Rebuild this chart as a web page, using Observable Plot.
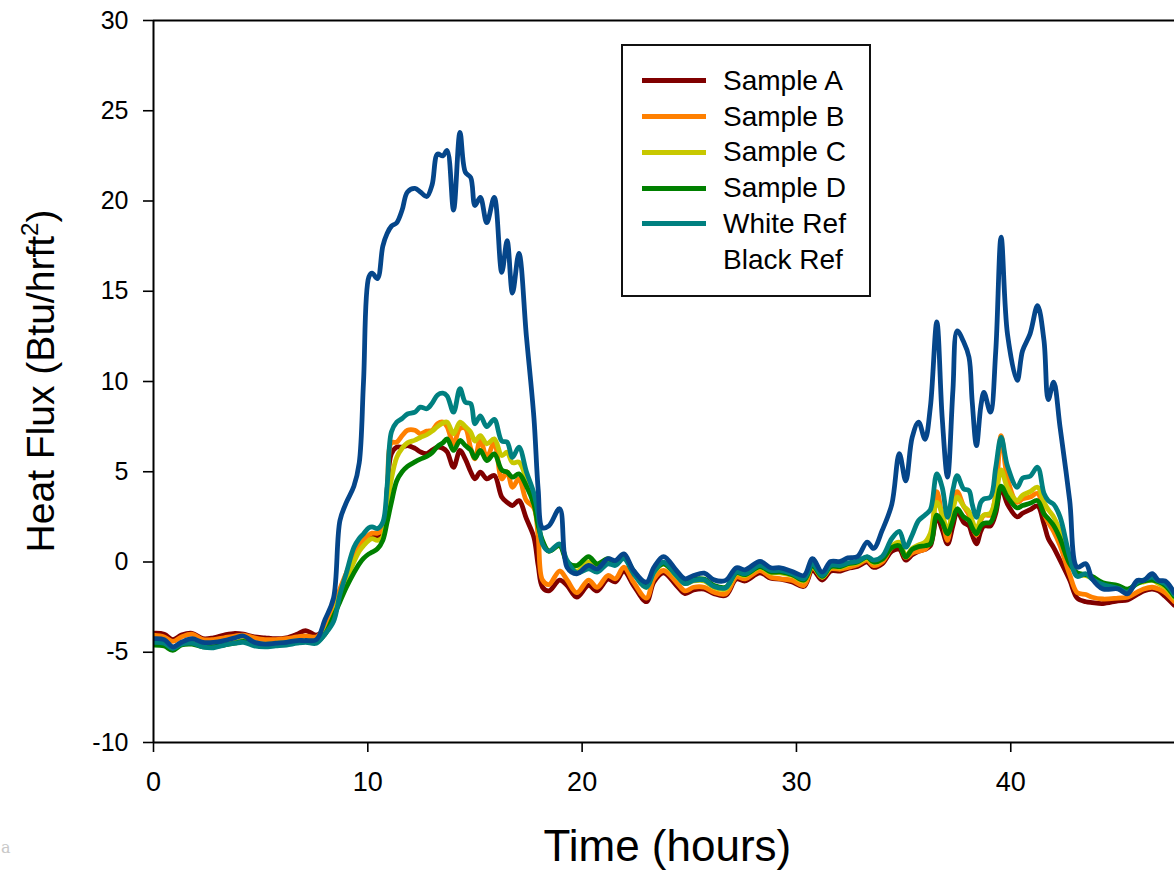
<!DOCTYPE html>
<html><head><meta charset="utf-8">
<script src="https://cdn.jsdelivr.net/npm/d3@7"></script>
<script src="https://cdn.jsdelivr.net/npm/@observablehq/plot@0.6"></script>
<style>
body{margin:0;background:#fff;}
#wrap{position:relative;width:1174px;height:873px;overflow:hidden;font-family:"Liberation Sans",Arial,sans-serif;background:#fff;}
#wrap svg{position:absolute;left:0;top:0;}
.legend{position:absolute;left:621px;top:44px;width:246px;height:249px;border:2px solid #111;background:#fff;}
.legend .sw{position:absolute;left:19px;width:64px;height:5px;}
.legend .lb{position:absolute;left:100px;font-size:28px;line-height:30px;color:#000;white-space:nowrap;}
.artifact{position:absolute;left:1px;top:838px;font-family:"DejaVu Serif",serif;font-size:16px;color:#c8c8c8;}
</style></head><body><div id="wrap"></div>
<script>
const hours = [0,0.5,0.9,1.3,1.8,2.3,2.8,3.3,3.8,4.2,
 4.7,5.2,5.7,6.2,6.7,7.1,7.6,8.0,8.4,8.7,
 9.0,9.35,9.6,9.8,10.05,10.2,10.45,10.7,10.9,11.1,
 11.35,11.6,11.85,12.2,12.45,12.75,13.0,13.25,13.5,13.7,
 14.0,14.3,14.55,14.8,15.0,15.25,15.55,15.9,16.25,16.5,
 16.75,17.05,17.4,17.75,17.95,18.15,18.45,18.95,19.3,19.75,
 20.3,20.7,21.2,21.55,21.95,22.4,23.0,23.35,23.8,24.4,
 24.8,25.2,25.7,26.15,26.7,27.2,27.6,28.3,28.8,29.25,
 29.8,30.35,30.75,31.2,31.6,32.05,32.4,32.85,33.3,33.6,
 34.0,34.45,34.8,35.1,35.4,35.7,36.0,36.25,36.55,36.8,
 37.05,37.3,37.5,37.8,38.05,38.2,38.4,38.6,38.75,39.05,
 39.3,39.55,39.85,40.3,40.55,40.9,41.25,41.55,41.75,42.0,
 42.3,42.75,43.1,43.5,43.8,44.3,45.0,45.45,45.9,46.2,
 46.6,46.9,47.2,47.63];

const sampleA = [-3.95,-4.0,-4.3,-4.05,-3.95,-4.25,-4.2,-4.05,-3.95,-4.0,
 -4.15,-4.2,-4.25,-4.2,-4.0,-3.8,-4.05,-3.7,-2.7,-1.6,
 -0.7,0.3,0.8,1.1,1.4,1.5,1.4,1.5,4.0,6.0,
 6.36,6.36,6.45,6.3,6.1,6.0,6.2,6.36,6.3,6.1,
 5.25,6.18,5.7,5.0,4.61,4.98,4.61,4.8,3.6,3.3,
 3.13,3.4,2.4,1.37,-0.2,-1.4,-1.6,-1.0,-1.3,-1.95,
 -1.3,-1.6,-0.95,-1.1,-0.5,-1.3,-2.2,-1.1,-0.6,-1.3,
 -1.75,-1.55,-1.5,-1.75,-1.85,-0.95,-1.05,-0.6,-0.9,-0.95,
 -1.1,-1.35,-0.45,-1.0,-0.5,-0.5,-0.35,-0.25,0.0,-0.3,
 -0.1,0.6,0.7,0.1,0.4,0.6,0.7,0.9,2.5,1.8,
 1.0,2.0,2.8,2.2,2.0,1.5,1.0,1.7,2.0,2.0,
 2.7,4.1,3.2,2.5,2.7,2.9,3.1,2.1,1.3,0.8,
 0.1,-1.0,-2.0,-2.2,-2.25,-2.3,-2.15,-2.1,-1.8,-1.6,
 -1.5,-1.6,-1.9,-2.4];

const sampleB = [-4.05,-4.15,-4.4,-4.15,-4.0,-4.3,-4.3,-4.2,-4.1,-4.05,
 -4.2,-4.3,-4.3,-4.25,-4.15,-4.1,-4.15,-3.6,-2.6,-1.5,
 -0.6,0.4,0.9,1.2,1.5,1.6,1.6,1.8,3.5,6.6,
 6.64,7.0,7.3,7.3,7.1,7.25,7.3,7.66,7.75,7.5,
 6.55,7.4,7.4,6.3,5.72,6.82,5.8,6.6,4.6,5.0,
 4.14,4.6,3.4,3.0,1.4,-1.0,-1.25,-0.5,-1.0,-1.7,
 -1.0,-1.4,-0.75,-0.93,-0.29,-1.12,-2.0,-0.93,-0.47,-1.12,
 -1.6,-1.4,-1.4,-1.67,-1.76,-0.84,-0.93,-0.47,-0.84,-0.93,
 -1.02,-1.3,-0.29,-0.84,-0.38,-0.4,-0.3,-0.15,0.1,-0.2,
 0.0,0.8,1.0,0.25,0.5,0.6,0.7,1.2,3.9,2.5,
 1.2,3.2,3.9,3.1,2.6,2.0,1.5,2.3,2.6,2.6,
 3.8,7.0,4.6,3.3,3.5,3.6,3.8,2.7,2.2,1.7,
 0.9,-0.7,-1.7,-1.8,-1.95,-2.05,-2.0,-1.95,-1.67,-1.5,
 -1.4,-1.5,-1.7,-2.2];

const sampleC = [-4.55,-4.6,-4.8,-4.55,-4.45,-4.6,-4.6,-4.5,-4.45,-4.35,
 -4.5,-4.55,-4.5,-4.45,-4.35,-4.35,-4.35,-3.9,-3.0,-1.8,
 -1.0,0.0,0.6,0.9,1.2,1.3,1.2,1.4,3.0,4.6,
 5.8,6.3,6.6,6.75,6.9,7.05,7.25,7.5,7.7,7.75,
 7.1,7.75,7.5,7.2,6.7,7.0,6.55,6.82,5.9,6.08,
 5.5,5.53,4.6,3.4,2.0,1.1,0.6,0.95,0.0,-0.5,
 0.0,-0.3,0.05,-0.1,0.25,-0.6,-1.4,-0.6,-0.1,-0.8,
 -1.2,-1.05,-1.05,-1.4,-1.5,-0.65,-0.75,-0.3,-0.6,-0.6,
 -0.75,-1.05,-0.25,-0.85,-0.3,-0.3,-0.15,-0.05,0.2,-0.05,
 0.15,0.9,1.1,0.35,0.75,0.95,1.1,1.6,3.3,2.7,
 1.7,2.9,3.6,3.1,2.8,2.3,1.8,2.4,2.6,2.7,
 3.6,5.1,4.1,3.4,3.7,3.9,4.14,3.3,2.9,2.5,
 1.7,0.0,-0.7,-0.75,-0.9,-1.2,-1.35,-1.55,-1.2,-1.1,
 -1.0,-1.2,-1.4,-2.0];

const sampleD = [-4.6,-4.65,-4.9,-4.6,-4.55,-4.7,-4.7,-4.6,-4.5,-4.4,
 -4.55,-4.6,-4.55,-4.5,-4.45,-4.4,-4.4,-4.0,-3.0,-2.2,
 -1.4,-0.6,-0.1,0.2,0.45,0.55,0.73,1.2,2.2,3.3,
 4.5,5.0,5.3,5.55,5.7,5.85,6.05,6.4,6.6,6.82,
 6.18,6.73,6.45,6.2,5.75,6.18,5.62,5.99,5.1,4.98,
 4.7,4.88,4.2,3.2,2.0,1.2,0.6,0.9,0.0,-0.2,
 0.3,-0.1,0.18,0.0,0.3,-0.5,-1.3,-0.5,-0.1,-0.7,
 -1.1,-0.95,-0.95,-1.3,-1.4,-0.6,-0.7,-0.25,-0.55,-0.55,
 -0.7,-1.0,-0.2,-0.8,-0.25,-0.25,-0.1,0.0,0.27,0.0,
 0.15,0.8,0.9,0.27,0.7,0.85,0.9,1.0,2.6,2.2,
 1.56,2.3,2.95,2.5,2.3,1.9,1.56,2.0,2.15,2.2,
 2.9,4.2,3.6,3.0,3.13,3.25,3.4,2.67,2.4,2.02,
 1.3,-0.1,-0.6,-0.7,-0.8,-1.15,-1.3,-1.5,-1.2,-1.05,
 -1.0,-1.1,-1.3,-1.9];

const whiteRef = [-4.45,-4.5,-4.8,-4.55,-4.5,-4.7,-4.75,-4.6,-4.5,-4.45,
 -4.65,-4.7,-4.65,-4.6,-4.5,-4.45,-4.5,-4.0,-3.3,-1.8,
 -0.6,0.8,1.3,1.56,1.9,1.95,1.85,2.2,4.2,7.2,
 7.75,7.95,8.2,8.3,8.58,8.49,8.8,9.25,9.35,9.2,
 8.3,9.6,8.85,8.77,7.66,8.1,7.5,7.9,6.7,6.64,
 5.8,6.36,5.0,3.8,2.6,1.0,0.6,1.0,0.08,-0.6,
 -0.38,-0.56,-0.1,-0.19,0.18,-0.65,-1.4,-0.56,-0.01,-0.75,
 -1.2,-1.02,-0.99,-1.36,-1.43,-0.56,-0.65,-0.19,-0.47,-0.47,
 -0.65,-0.93,-0.1,-0.75,-0.19,-0.19,-0.05,0.05,0.3,0.1,
 0.3,1.3,1.7,0.82,1.5,2.3,2.6,2.9,4.88,4.14,
 2.48,4.0,4.79,4.05,3.96,3.2,2.48,3.3,3.5,3.59,
 5.25,6.9,5.3,4.14,4.65,4.75,5.25,3.8,3.4,3.2,
 2.5,0.3,-0.8,-0.65,-0.95,-1.25,-1.45,-1.67,-1.12,-1.0,
 -0.84,-1.05,-1.2,-1.8];

const blackRef = [-4.25,-4.3,-4.7,-4.45,-4.25,-4.45,-4.45,-4.35,-4.2,-4.1,
 -4.45,-4.55,-4.5,-4.45,-4.35,-4.35,-4.3,-3.2,-2.0,2.3,
 3.3,4.2,5.5,10.0,15.8,16.0,15.7,17.5,18.2,18.6,
 18.8,19.5,20.5,20.7,20.5,20.25,20.9,22.6,22.5,22.8,
 19.5,23.8,21.6,21.3,19.75,20.2,18.8,20.2,16.05,17.8,
 14.9,17.1,12.5,8.0,4.0,1.9,2.0,2.95,-0.3,-0.65,
 -0.19,-0.38,0.18,0.08,0.45,-0.47,-1.12,-0.29,0.3,-0.47,
 -0.93,-0.75,-0.62,-0.99,-1.02,-0.32,-0.43,0.03,-0.32,-0.32,
 -0.53,-0.75,0.18,-0.56,0.03,0.03,0.23,0.3,1.1,0.75,
 1.75,3.2,6.0,4.5,6.9,7.75,6.8,8.6,13.3,8.0,
 4.7,9.5,12.8,12.2,11.35,8.9,6.45,8.6,9.4,8.3,
 11.7,18.0,12.6,10.06,11.7,12.64,14.2,12.27,9.0,9.96,
 7.47,3.4,-0.29,-0.1,-0.93,-1.49,-1.49,-1.76,-1.02,-1.02,
 -0.65,-1.02,-1.05,-1.7];

const seriesNames = ["Sample A","Sample B","Sample C","Sample D","White Ref","Black Ref"];
const seriesColors = ["#800000","#ff8000","#c8c800","#008000","#008080","#05468a"];
const legendSwatches = ["#800000","#ff8000","#c8c800","#008000","#008080","transparent"];
const yTicks = [-10,-5,0,5,10,15,20,25,30];
const xTicks = [0,10,20,30,40];
const xLabel = "Time (hours)";
const yLabelMain = "Heat Flux (Btu/hrft";
const yLabelSup = "2";

const allSeries = [sampleA, sampleB, sampleC, sampleD, whiteRef, blackRef];
const rows = [];
allSeries.forEach((vals, i) => vals.forEach((v, j) => {
  if (j < hours.length) rows.push({series: seriesNames[i], t: hours[j], v});
}));

const FONT = '"Liberation Sans", Arial, sans-serif';
const plot = Plot.plot({
  width: 1174, height: 873,
  marginLeft: 153, marginRight: 0, marginTop: 20, marginBottom: 131,
  style: {fontFamily: FONT, color: "#000", background: "transparent", overflow: "visible"},
  x: {domain: [0, 47.64]},
  y: {domain: [-10, 30]},
  color: {domain: seriesNames, range: seriesColors},
  marks: [
    Plot.lineY(rows, {x: "t", y: "v", z: "series", stroke: "series", strokeWidth: 4.8, curve: "catmull-rom", clip: true}),
    Plot.ruleY([30, -10], {stroke: "#000", strokeWidth: 2}),
    Plot.ruleX([0], {stroke: "#000", strokeWidth: 2}),
    Plot.axisY({ticks: yTicks, tickSize: 10, tickPadding: 15, fontSize: 25, label: null, strokeWidth: 1.6, tickFormat: d => String(d)}),
    Plot.axisX({ticks: xTicks, tickSize: 10, tickPadding: 19, fontSize: 27, label: null, strokeWidth: 1.6, tickFormat: d => String(d)})
  ]
});

const wrap = document.getElementById("wrap");
wrap.appendChild(plot);

const svg = d3.select(plot);
const xs = plot.scale("x"), ys = plot.scale("y");
const yMid = (ys.apply(30) + ys.apply(-10)) / 2;
const yl = svg.append("text")
  .attr("transform", `translate(54,${yMid}) rotate(-90)`)
  .attr("text-anchor", "middle")
  .attr("font-family", FONT)
  .attr("font-size", 39)
  .attr("fill", "#000");
yl.append("tspan").text(yLabelMain);
yl.append("tspan").attr("font-size", 24).attr("dy", -16).text(yLabelSup);
yl.append("tspan").attr("dy", 16).text(")");

svg.append("text")
  .attr("x", xs.apply(24))
  .attr("y", 861)
  .attr("text-anchor", "middle")
  .attr("font-family", FONT)
  .attr("font-size", 44)
  .attr("fill", "#000")
  .text(xLabel);

// legend
const leg = document.createElement("div");
leg.className = "legend";
seriesNames.forEach((name, i) => {
  const cy = 34.7 + i * 35.8;
  const sw = document.createElement("div");
  sw.className = "sw";
  sw.style.top = (cy - 2.5) + "px";
  sw.style.background = legendSwatches[i];
  leg.appendChild(sw);
  const lb = document.createElement("div");
  lb.className = "lb";
  lb.style.top = (cy - 15) + "px";
  lb.textContent = name;
  leg.appendChild(lb);
});
wrap.appendChild(leg);

const art = document.createElement("div");
art.className = "artifact";
art.textContent = "a";
wrap.appendChild(art);
</script>
</body></html>
